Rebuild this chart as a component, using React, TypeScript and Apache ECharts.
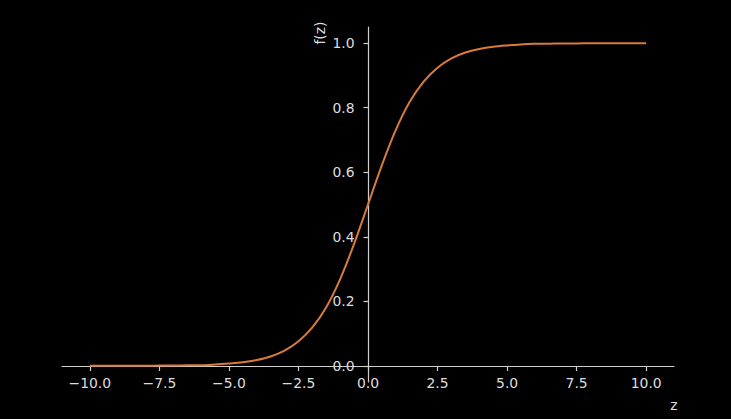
import React, { useEffect, useRef } from "react";
import * as echarts from "echarts";

// z values and f(z) values
const zValues = [
  -10, -9.5, -9, -8.5, -8, -7.5, -7, -6.5, -6, -5.5, -5, -4.5, -4, -3.5, -3,
  -2.5, -2, -1.5, -1, -0.5, 0, 0.5, 1, 1.5, 2, 2.5, 3, 3.5, 4, 4.5, 5, 5.5, 6,
  6.5, 7, 7.5, 8, 8.5, 9, 9.5, 10,
];
const fValues = [
  0.0, 0.0, 0.0, 0.0, 0.0, 0.001, 0.001, 0.002, 0.002, 0.004, 0.007, 0.011,
  0.018, 0.029, 0.047, 0.076, 0.119, 0.182, 0.269, 0.378, 0.5, 0.622, 0.731,
  0.818, 0.881, 0.924, 0.953, 0.971, 0.982, 0.989, 0.993, 0.996, 0.998, 0.998,
  0.999, 0.999, 1.0, 1.0, 1.0, 1.0, 1.0,
];
const xTicks = [-10, -7.5, -5, -2.5, 0, 2.5, 5, 7.5, 10];
const yTicks = [0, 0.2, 0.4, 0.6, 0.8, 1.0];
const xName = "z";
const yName = "f(z)";

const FONT = "DejaVu Sans";
const AXIS_COLOR = "#cfcfcf";
const TEXT_COLOR = "#dedede";
const LINE_COLOR = "#d97b3a";

const fmt = (v: number) => v.toFixed(1).replace("-", "\u2212");

export default function App() {
  const ref = useRef<HTMLDivElement>(null);
  useEffect(() => {
    if (!ref.current) return;
    const chart = echarts.init(ref.current, null, { renderer: "svg" });
    chart.setOption({
      animation: false,
      backgroundColor: "#000000",
      grid: { left: 62, right: 57, top: 27, bottom: 37, containLabel: false },
      xAxis: {
        type: "value",
        min: -11,
        max: 11,
        offset: -16,
        splitLine: { show: false },
        axisLine: { show: true, onZero: false, lineStyle: { color: AXIS_COLOR, width: 1.2 } },
        axisTick: {
          show: true,
          length: 5,
          customValues: xTicks,
          lineStyle: { color: AXIS_COLOR, width: 1.2 },
        },
        axisLabel: {
          show: true,
          customValues: xTicks,
          margin: 10,
          color: TEXT_COLOR,
          fontFamily: FONT,
          fontSize: 13.9,
          formatter: (v: number) => fmt(v),
        },
      },
      yAxis: {
        type: "value",
        min: -0.05,
        max: 1.05,
        offset: -306.5,
        splitLine: { show: false },
        axisLine: { show: true, onZero: false, lineStyle: { color: AXIS_COLOR, width: 1.2 } },
        axisTick: {
          show: true,
          length: 5,
          customValues: yTicks,
          lineStyle: { color: AXIS_COLOR, width: 1.2 },
        },
        axisLabel: {
          show: true,
          customValues: yTicks,
          margin: 14,
          color: TEXT_COLOR,
          fontFamily: FONT,
          fontSize: 13.9,
          formatter: (v: number) => fmt(v),
        },
      },
      graphic: [
        {
          type: "text",
          x: 674,
          y: 405,
          style: {
            text: xName,
            fill: TEXT_COLOR,
            font: `13.9px "${FONT}"`,
            align: "center",
            verticalAlign: "middle",
          },
        },
        {
          type: "text",
          x: 320,
          y: 33,
          rotation: Math.PI / 2,
          style: {
            text: yName,
            fill: TEXT_COLOR,
            font: `13.9px "${FONT}"`,
            align: "center",
            verticalAlign: "middle",
          },
        },
      ],
      series: [
        {
          type: "line",
          data: zValues.map((z, i) => [z, fValues[i]]),
          smooth: 0.3,
          showSymbol: false,
          lineStyle: { color: LINE_COLOR, width: 2 },
          itemStyle: { color: LINE_COLOR },
        },
      ],
    });
    return () => chart.dispose();
  }, []);
  return (
    <div
      ref={ref}
      style={{ position: "fixed", left: 0, top: 0, width: 731, height: 419 }}
    />
  );
}
